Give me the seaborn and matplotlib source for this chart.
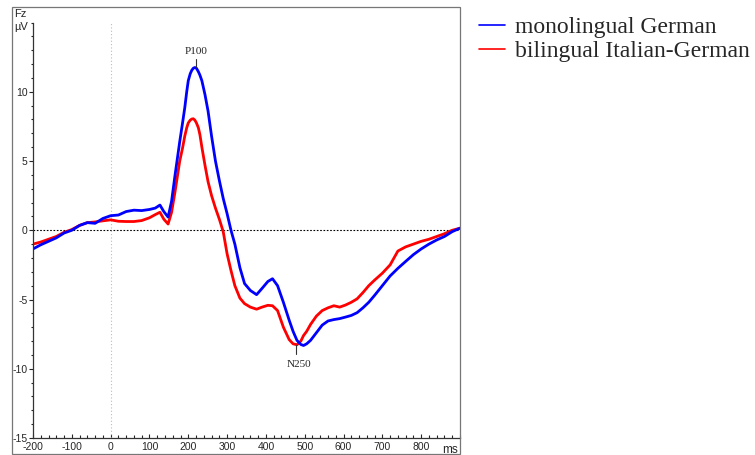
import numpy as np
import pandas as pd
import seaborn as sns
import matplotlib.pyplot as plt
from matplotlib.lines import Line2D
from matplotlib.patches import Rectangle

# time points (ms) shared by both grand averages
time_ms = [-200, -180, -160, -140, -120, -100, -80, -60, -40, -20, 0, 20, 40, 60, 80,
           100, 115, 127, 137, 148, 157, 166, 178, 185, 191, 196, 200, 205, 209, 213,
           217, 221, 226, 230, 235, 243,
           251, 260, 270, 280, 290, 300, 310, 320, 333, 345, 360, 376, 390, 405, 417,
           430, 445, 460, 470, 480, 490, 497, 505, 515, 530, 545, 560, 575, 590, 605,
           620, 635, 650, 665, 680, 700, 720, 740, 760, 780, 800, 820, 840, 860, 880, 900]

# amplitude at Fz (microvolts)
mono_german = [-1.35, -1.05, -0.8, -0.55, -0.2, 0.0, 0.35, 0.55, 0.5, 0.85, 1.05, 1.1, 1.35, 1.45, 1.42,
               1.5, 1.6, 1.82, 1.35, 0.95, 2.1, 4.0, 6.4, 7.7, 8.85, 10.0, 10.8, 11.3, 11.55, 11.7,
               11.75, 11.7, 11.45, 11.2, 10.8, 9.8,
               8.6, 6.8, 5.0, 3.6, 2.3, 1.2, 0.0, -1.0, -2.7, -3.85, -4.35, -4.65, -4.2, -3.7, -3.5,
               -4.0, -5.2, -6.5, -7.3, -7.95, -8.25, -8.32, -8.2, -7.95, -7.4, -6.85, -6.55, -6.45, -6.38, -6.27,
               -6.15, -5.95, -5.6, -5.2, -4.7, -4.0, -3.3, -2.75, -2.25, -1.76, -1.35, -1.0, -0.7, -0.45, -0.1, 0.15]

bi_ital_german = [-1.0, -0.85, -0.65, -0.45, -0.15, 0.05, 0.35, 0.55, 0.6, 0.68, 0.75, 0.65, 0.63, 0.63, 0.7,
                  0.9, 1.13, 1.3, 0.8, 0.45, 1.3, 2.8, 5.0, 5.9, 6.8, 7.4, 7.75, 7.95, 8.03, 8.05,
                  7.95, 7.75, 7.4, 6.9, 6.0, 4.7,
                  3.5, 2.5, 1.6, 0.8, -0.1, -1.7, -2.9, -4.0, -4.9, -5.3, -5.55, -5.7, -5.55, -5.42, -5.45,
                  -5.8, -7.0, -7.9, -8.2, -8.27, -8.0, -7.6, -7.3, -6.8, -6.2, -5.8, -5.6, -5.45, -5.55, -5.4,
                  -5.2, -4.95, -4.5, -4.0, -3.6, -3.1, -2.5, -1.5, -1.2, -1.0, -0.8, -0.65, -0.45, -0.25, 0.0, 0.15]

labels = ["monolingual German", "bilingual Italian-German"]
colors = ["#0000ff", "#ff0000"]

sns.set_style("ticks")
plt.rcParams['font.family'] = ['Liberation Sans', 'DejaVu Sans']
plt.rcParams['axes.unicode_minus'] = False

df = pd.DataFrame({"time": time_ms * 2,
                   "amp": mono_german + bi_ital_german,
                   "group": [labels[0]] * len(time_ms) + [labels[1]] * len(time_ms)})

fig = plt.figure(figsize=(7.55, 4.55), dpi=100)
W, H = 755, 455
ax = fig.add_axes([33 / W, 1 - 438 / H, (460 - 33) / W, (438 - 22.5) / H])

# plot red first so blue sits on top
for lab, col in zip(labels[::-1], colors[::-1]):
    sub = df[df.group == lab]
    sns.lineplot(data=sub, x="time", y="amp", color=col, lw=2.0, ax=ax, legend=False)

ax.set_xlim(-200, 900)
ax.set_ylim(-15, 15)
ax.axhline(0, color="black", lw=0.8, ls=(0, (1.5, 1.5)), zorder=1)
ax.axvline(0, color="#bbbbbb", lw=0.8, ls=(0, (1, 2)), zorder=1)

ax.set_xticks(range(-200, 900, 100))
ax.set_xticks(range(-200, 901, 20), minor=True)
ax.set_yticks([-15, -10, -5, 0, 5, 10])
ax.set_yticks(range(-15, 16), minor=True)
ax.tick_params(axis="x", which="major", direction="in", length=3, width=0.8, labelsize=7.5, pad=3)
ax.tick_params(axis="x", which="minor", direction="in", length=2, width=0.8)
ax.tick_params(axis="y", which="major", direction="out", length=3, width=0.8, labelsize=7.5, pad=1)
ax.tick_params(axis="y", which="minor", direction="out", length=1.5, width=0.8)
for s in ["top", "right"]:
    ax.spines[s].set_visible(False)
for s in ["left", "bottom"]:
    ax.spines[s].set_linewidth(0.9)
    ax.spines[s].set_color("#333333")
ax.set_xlabel("")
ax.set_ylabel("")

# component labels
ax.plot([219, 219], [11.8, 12.4], color="#333333", lw=0.8)
ax.text(219, 12.9, "P100", ha="center", va="center", fontsize=8, family="Liberation Serif")
ax.plot([477, 477], [-8.25, -8.95], color="#333333", lw=0.8)
ax.text(485, -9.7, "N250", ha="center", va="center", fontsize=8, family="Liberation Serif")

# channel / unit labels
fig.text(14 / W, 1 - 14 / H, "Fz", fontsize=8, ha="left", va="center")
fig.text(14 / W, 1 - 27 / H, "µV", fontsize=8, ha="left", va="center")
fig.text(458 / W, 1 - 450 / H, "ms", fontsize=8.5, ha="right", va="center")

# outer frame
fig.patches.append(Rectangle((12 / W, 1 / H), (460 - 12) / W, (448 - 1) / H,
                             transform=fig.transFigure, fill=False,
                             edgecolor="#777777", lw=0.9))

handles = [Line2D([], [], color=c, lw=1.2) for c in colors]
fig.legend(handles, labels, loc="upper left", bbox_to_anchor=(470 / W, 1 - 7 / H),
           frameon=False, prop={"family": "Liberation Serif", "size": 17},
           handlelength=1.1, handletextpad=0.4, labelspacing=0.1, borderaxespad=0)

fig.savefig("out.png", dpi=100)
